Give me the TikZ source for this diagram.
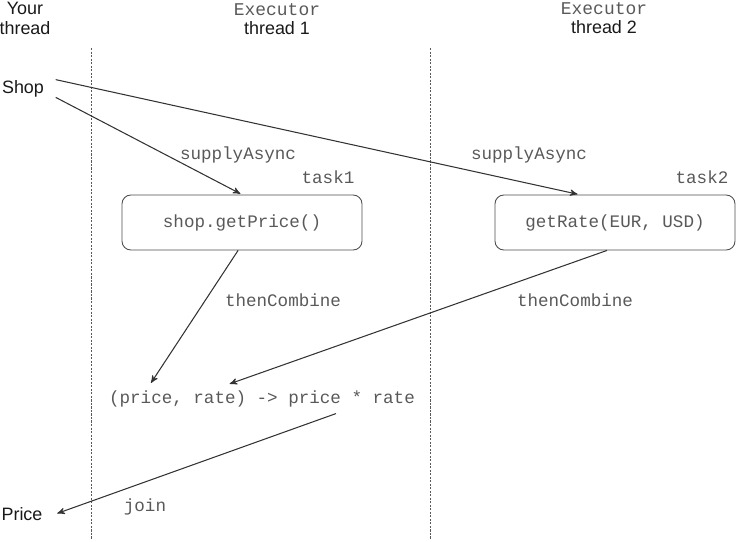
\documentclass[tikz,border=0pt]{standalone}
\usepackage{fontspec}
\setsansfont{Liberation Sans}
\setmonofont{Liberation Mono}
\usetikzlibrary{arrows,positioning}

\begin{document}
\begin{tikzpicture}[->,>=stealth',shorten >=1pt,x=0.02cm,y=-0.02cm,
	                    semithick,draw=black!80]
	  \tikzstyle{lbl}=[font=\fontsize{10.2}{11.3}\selectfont\sffamily,text=black!90,align=center]
	  \tikzstyle{code}=[font=\fontsize{10}{11.3}\selectfont\ttfamily,text=black!65]
	  \tikzstyle{task}=[code,draw=black!70,line width=0.5pt,rounded corners=5pt,
	                    minimum width=4.8cm,minimum height=1.1cm]
	  \tikzstyle{lane}=[-,line width=0.5pt,black!65,dash pattern=on 1.2pt off 0.8pt]
	  \useasboundingbox (0,0) rectangle (737,541);

	  % thread headings
	  \node[lbl]  (your) at (25,18)  {Your\\thread};
	  \node[lbl,font=\fontsize{10.2}{10.8}\selectfont\sffamily] (ex1) at (277,19)
	        {{\color{black!65}\ttfamily Executor}\\thread 1};
	  \node[lbl,font=\fontsize{10.2}{10.8}\selectfont\sffamily] (ex2) at (604,18)
	        {{\color{black!65}\ttfamily Executor}\\thread 2};
	  \draw[lane] (91,48) -- (91,541);
	  \draw[lane] (430,48) -- (430,541);

	  \node[lbl,inner xsep=6.4pt,inner ysep=0pt] (shop)  at (23,88.5) {Shop};
	  \node[lbl,inner xsep=7.2pt] (price) at (22,514) {Price};

	  \node[task] (t1) at (242,222.5) {shop.getPrice()};
	  \node[task] (t2) at (615,222.5) {getRate(EUR, USD)};
	  \node[code] (comb) at (262,399) {(price, rate) -> price * rate};

	  \node[code] (task1) at (328,177) {task1};
	  \node[code] (task2) at (702,177) {task2};
	  \node[code] (sa1) at (238,155) {supplyAsync};
	  \node[code] (sa2) at (529,155) {supplyAsync};
	  \node[code] (tc1) at (283,300) {thenCombine};
	  \node[code] (tc2) at (575,300) {thenCombine};
	  \node[code] (join) at (145,507) {join};

	  \path (shop.south east) edge (t1.north)
	        (shop.north east) edge (t2.142)
	        (t1.262)          edge ([xshift=-2.24cm]comb.north)
	        (t2.254)          edge ([xshift=-0.68cm]comb.north)
	        ([xshift=1.48cm]comb.south) edge (price.east);
	\end{tikzpicture}
\end{document}
